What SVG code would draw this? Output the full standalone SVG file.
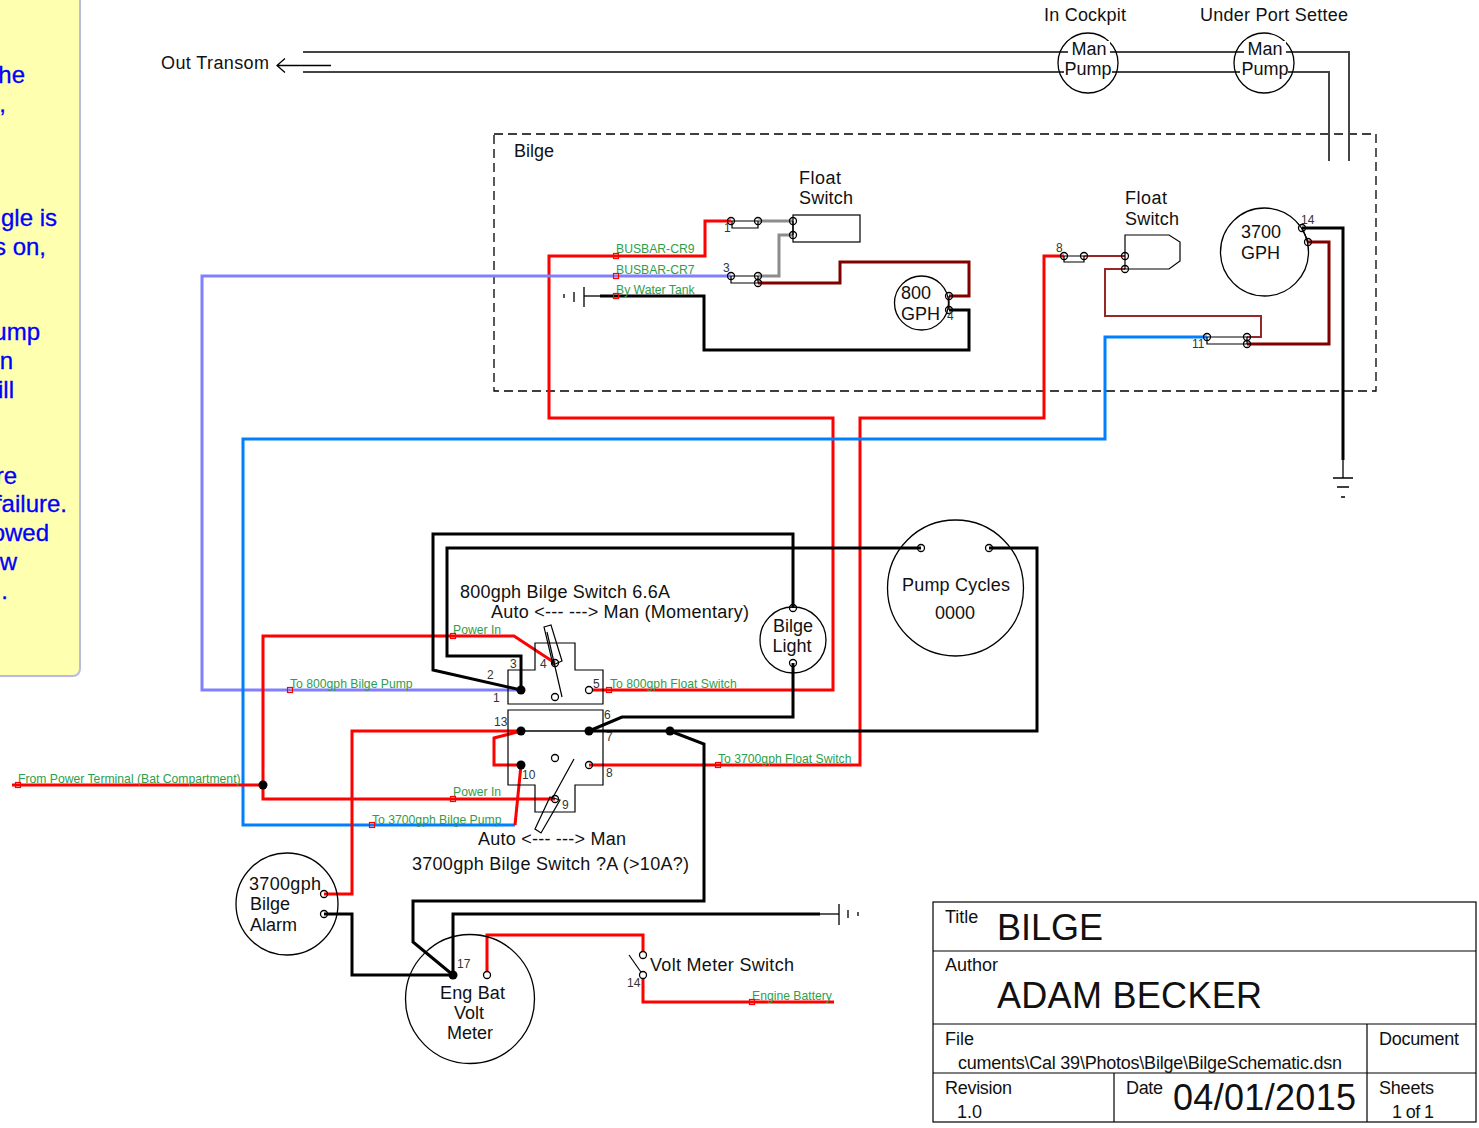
<svg xmlns="http://www.w3.org/2000/svg" width="1479" height="1128" viewBox="0 0 1479 1128">
<style>
text{font-family:"Liberation Sans",Arial,sans-serif;fill:#111;font-size:18px}
.g{fill:#2e9e4a;font-size:12.200px}
.n{fill:#333;font-size:12px}
.b{fill:#0000ff;font-size:24px;text-anchor:end;stroke:#0000ff;stroke-width:.3px}
.m{text-anchor:middle}
.s{fill:#fff;stroke:#000;stroke-width:1.3}
.o{fill:none;stroke:#000;stroke-width:1.3}
.t{fill:none;stroke:#000;stroke-width:1.2}
.d{fill:#000}
.w{fill:none;stroke-linejoin:miter}
.r{stroke:#f00;stroke-width:3}
.k{stroke:#000;stroke-width:3}
.br{stroke:#800000;stroke-width:3}
.tr{stroke:#982828;stroke-width:2}
.gy{stroke:#8c8c8c;stroke-width:3}
.bl{stroke:#0080ff;stroke-width:3}
.lv{stroke:#8080ff;stroke-width:3}
.th{stroke:#000;stroke-width:1.3}
.ds{stroke:#444;stroke-width:2}
.tag{fill:none;stroke:#f00;stroke-width:1.2}
</style>

<g id="note">
<rect x="-20" y="-20" width="100" height="696" rx="7" fill="#ffffb0" stroke="#b9b9e6" stroke-width="2"/>
<text class="b" x="25" y="83">he</text>
<text class="b" x="6" y="112">,</text>
<text class="b" x="57" y="226">gle is</text>
<text class="b" x="46" y="255">s on,</text>
<text class="b" x="40" y="340">ump</text>
<text class="b" x="13" y="369">n</text>
<text class="b" x="14" y="398">ill</text>
<text class="b" x="17" y="484">re</text>
<text class="b" x="67" y="512">failure.</text>
<text class="b" x="49" y="541">owed</text>
<text class="b" x="17" y="570">w</text>
<text class="b" x="8" y="599">.</text>
</g>

<g id="bilge-boundary">
<rect x="494" y="134" width="882" height="257" fill="none" stroke="#000" stroke-width="1.3" stroke-dasharray="9 5"/>
<text x="514" y="157">Bilge</text>
</g>

<g id="connectors">
<path class="w ds" d="M303 52H1349V161"/>
<path class="w ds" d="M303 72H1329V161"/>
<path class="w th" d="M331 65.500H277M285 58.500L277 65.500L285 72.500"/>
<path class="w r" d="M731 221H705V256H549V418H833V690H589"/>
<path class="w lv" d="M731 276H202V690H521"/>
<path class="w gy" d="M758 221H793"/>
<path class="w gy" d="M793 235H779V276H758"/>
<path class="w br" d="M758 283H840V262H969V296H949"/>
<path class="w k" d="M949 310H969V350H704V296H600"/>
<path class="w th" d="M600 296H584"/>
<path class="w r" d="M1064 256H1044V418H860V765H589"/>
<path class="w tr" d="M1084 256H1125"/>
<path class="w tr" d="M1125 269H1105V316H1261V337H1247"/>
<path class="w br" d="M1247 344H1329V242H1308"/>
<path class="w bl" d="M1207 337H1105V439H243V825H515"/>
<path class="w k" d="M1302 228H1343V460"/>
<path class="w th" d="M1343 460V478"/>
<path class="w r" d="M12 785H263V636H514L555 663"/>
<path class="w r" d="M263 785V799H555"/>
<path class="w r" d="M521 731H352V894H324"/>
<path class="w r" d="M521 731L494 738V765H521"/>
<path class="w r" d="M521 765L515 825"/>
<path class="w k" d="M521 690V656H447V548H921"/>
<path class="w k" d="M521 690L433 670V534H793V608"/>
<path class="w ds" d="M521 731H589"/>
<path class="w k" d="M589 731H1037V548H989"/>
<path class="w k" d="M589 731L622 717H793V663"/>
<path class="w k" d="M670 731L704 744V901H413V942L453 975"/>
<path class="w k" d="M453 975V914H820"/>
<path class="w th" d="M820 914H839"/>
<path class="w k" d="M324 914H352V975H453"/>
<path class="w r" d="M487 975V935H643V955"/>
<path class="w r" d="M643 975V1002H834"/>
</g>

<g id="out-transom"><text x="161" y="69" textLength="108">Out Transom</text></g>

<g id="man-pump-cockpit">
<circle class="o" cx="1088" cy="63" r="30"/>
<rect x="1068" y="41" width="42" height="18" fill="#fff"/>
<rect x="1064" y="61" width="48" height="18" fill="#fff"/>
<text class="m" x="1089" y="55">Man</text>
<text class="m" x="1088" y="75">Pump</text>
<text x="1044" y="21" textLength="82">In Cockpit</text>
</g>
<g id="man-pump-settee">
<circle class="o" cx="1264" cy="63" r="30"/>
<rect x="1244" y="41" width="42" height="18" fill="#fff"/>
<rect x="1240" y="61" width="48" height="18" fill="#fff"/>
<text class="m" x="1265" y="55">Man</text>
<text class="m" x="1265" y="75">Pump</text>
<text x="1200" y="21" textLength="148">Under Port Settee</text>
</g>

<g id="fuse-1">
<path class="t" d="M731 221H758M732 221V228H758V221"/>
<circle class="o" cx="731" cy="221" r="3.500"/><circle class="o" cx="758" cy="221" r="3.500"/>
<text class="n" x="724" y="232">1</text>
</g>
<g id="fuse-3">
<path class="t" d="M731 276H758M731 276V283H758V276"/>
<circle class="o" cx="731" cy="276" r="3.500"/><circle class="o" cx="758" cy="276" r="3.500"/><circle class="o" cx="758" cy="283" r="3.500"/>
<text class="n" x="723" y="272">3</text>
</g>
<g id="float-switch-800">
<rect class="t" x="793" y="215" width="67" height="27"/>
<path class="t" d="M793 221V235"/>
<circle class="o" cx="793" cy="221" r="3.500"/><circle class="o" cx="793" cy="235" r="3.500"/>
<text x="799" y="184" textLength="42">Float</text><text x="799" y="204" textLength="54">Switch</text>
</g>
<g id="pump-800">
<circle class="o" cx="921.500" cy="303" r="27"/>
<path class="t" d="M949 296V310"/>
<circle class="o" cx="949" cy="296" r="3.500"/><circle class="o" cx="949" cy="310" r="3.500"/>
<text x="901" y="299">800</text><text x="901" y="320">GPH</text>
<text class="n" x="947" y="320">4</text>
</g>
<g id="ground-tank">
<path class="th" d="M584 287V307M574 292V302M564 294V298" fill="none"/>
</g>
<g id="fuse-8">
<path class="t" d="M1064 256H1084M1064 256V262H1084V256"/>
<circle class="o" cx="1064" cy="256" r="3.500"/><circle class="o" cx="1084" cy="256" r="3.500"/>
<text class="n" x="1056" y="252">8</text>
</g>
<g id="float-switch-3700">
<path class="t" d="M1125 269V235H1169L1180 242V261L1169 269Z"/>
<circle class="o" cx="1125" cy="256" r="3.500"/><circle class="o" cx="1125" cy="269" r="3.500"/>
<text x="1125" y="204" textLength="42">Float</text><text x="1125" y="225" textLength="54">Switch</text>
</g>
<g id="fuse-11">
<path class="t" d="M1207 337H1247V344H1207V337"/>
<circle class="o" cx="1207" cy="337" r="3.500"/><circle class="o" cx="1247" cy="337" r="3.500"/><circle class="o" cx="1247" cy="344" r="3.500"/>
<text class="n" x="1192" y="348">11</text>
</g>
<g id="pump-3700">
<circle class="o" cx="1264.500" cy="252" r="44"/>
<path class="t" d="M1302 228L1308 242"/>
<circle class="o" cx="1302" cy="228" r="3.500"/><circle class="o" cx="1308" cy="242" r="3.500"/>
<text x="1241" y="238">3700</text><text x="1241" y="259">GPH</text>
<text class="n" x="1301" y="224">14</text>
</g>
<g id="ground-main">
<path class="th" d="M1333 478H1353M1337 487H1349M1341 497H1345" fill="none"/>
</g>

<g id="switch-800">
<path class="t" d="M535 643H575V670H603V704H508V670H535Z"/>
<path class="t" d="M544 627L551 625L562 661L553 665ZM547 632L562 697"/>
<circle class="o" cx="555" cy="663" r="3.500"/><circle class="s" cx="555" cy="697" r="3.500"/><circle class="s" cx="589" cy="690" r="3.500"/>
<circle class="d" cx="521" cy="690" r="4.500"/>
<text class="n" x="510" y="668">3</text><text class="n" x="487" y="679">2</text><text class="n" x="493" y="702">1</text><text class="n" x="540" y="668">4</text><text class="n" x="593" y="688">5</text>
<text x="460" y="598" textLength="210">800gph Bilge Switch 6.6A</text>
<text x="491" y="618" textLength="258">Auto &lt;--- ---&gt; Man (Momentary)</text>
</g>
<g id="switch-3700">
<path class="t" d="M508 710H603V785H575V812H535V785H508Z"/>
<path class="t" d="M574 759L552 799M550 797L560 800L541 833L535 829Z"/>
<circle class="d" cx="521" cy="731" r="4.500"/><circle class="d" cx="589" cy="731" r="4.500"/><circle class="d" cx="521" cy="765" r="4.500"/>
<circle class="s" cx="555" cy="758" r="3.500"/><circle class="o" cx="589" cy="765" r="3.500"/><circle class="o" cx="555" cy="799" r="3.500"/>
<text class="n" x="494" y="726">13</text><text class="n" x="604" y="719">6</text><text class="n" x="606" y="741">7</text><text class="n" x="606" y="777">8</text><text class="n" x="522" y="779">10</text><text class="n" x="562" y="809">9</text>
<text x="478" y="845" textLength="148">Auto &lt;--- ---&gt; Man</text>
<text x="412" y="870" textLength="277">3700gph Bilge Switch ?A (&gt;10A?)</text>
</g>
<g id="junction-a"><circle class="d" cx="670" cy="731" r="4.500"/></g>
<g id="junction-b"><circle class="d" cx="263" cy="785" r="4.500"/></g>

<g id="bilge-light">
<circle class="o" cx="793" cy="640" r="33"/>
<circle class="o" cx="793" cy="608" r="3.500"/><circle class="o" cx="793" cy="663" r="3.500"/>
<text class="m" x="793" y="632">Bilge</text><text class="m" x="792" y="652">Light</text>
</g>
<g id="pump-cycles">
<circle class="o" cx="955.500" cy="588" r="68"/>
<circle class="o" cx="921" cy="548" r="3.500"/><circle class="o" cx="989" cy="548" r="3.500"/>
<text x="902" y="591" textLength="108">Pump Cycles</text><text class="m" x="955" y="619">0000</text>
</g>
<g id="bilge-alarm">
<circle class="o" cx="287" cy="904" r="51"/>
<circle class="o" cx="324" cy="894" r="3.500"/><circle class="o" cx="324" cy="914" r="3.500"/>
<text x="249" y="890" textLength="72">3700gph</text><text x="250" y="910">Bilge</text><text x="250" y="931">Alarm</text>
</g>
<g id="volt-meter">
<circle class="o" cx="470" cy="999" r="64.500"/>
<circle class="d" cx="453" cy="975" r="4.500"/><circle class="s" cx="487" cy="975" r="3.500"/>
<text class="n" x="457" y="968">17</text>
<text x="440" y="999" textLength="65">Eng Bat</text><text class="m" x="469" y="1019">Volt</text><text class="m" x="470" y="1039">Meter</text>
</g>
<g id="volt-switch">
<path class="t" d="M629 955L643 975"/>
<circle class="s" cx="643" cy="955" r="3.500"/><circle class="s" cx="643" cy="975" r="3.500"/>
<text x="650" y="971" textLength="144">Volt Meter Switch</text>
<text class="n" x="627" y="987">14</text>
</g>
<g id="ground-engine">
<path class="th" d="M839 904V925M848 910V918M858 912V916" fill="none"/>
</g>

<g id="wire-labels">
<text class="g" x="616" y="253">BUSBAR-CR9</text>
<text class="g" x="616" y="274">BUSBAR-CR7</text>
<text class="g" x="616" y="294">By Water Tank</text>
<text class="g" x="453" y="634">Power In</text>
<text class="g" x="290" y="688">To 800gph Bilge Pump</text>
<text class="g" x="610" y="688">To 800gph Float Switch</text>
<text class="g" x="718" y="763">To 3700gph Float Switch</text>
<text class="g" x="453" y="796">Power In</text>
<text class="g" x="372" y="824">To 3700gph Bilge Pump</text>
<text class="g" x="18" y="783">From Power Terminal (Bat Compartment)</text>
<text class="g" x="752" y="1000">Engine Battery</text>
<rect class="tag" x="613.500" y="253.500" width="5" height="5"/>
<rect class="tag" x="613.500" y="273.500" width="5" height="5"/>
<rect class="tag" x="613.500" y="293.500" width="5" height="5"/>
<rect class="tag" x="450.500" y="633.500" width="5" height="5"/>
<rect class="tag" x="287.500" y="687.500" width="5" height="5"/>
<rect class="tag" x="606.500" y="687.500" width="5" height="5"/>
<rect class="tag" x="715.500" y="762.500" width="5" height="5"/>
<rect class="tag" x="450.500" y="796.500" width="5" height="5"/>
<rect class="tag" x="369.500" y="822.500" width="5" height="5"/>
<rect class="tag" x="15.500" y="782.500" width="5" height="5"/>
<rect class="tag" x="749.500" y="999.500" width="5" height="5"/>
</g>

<g id="title-block">
<rect class="t" x="933" y="902" width="543" height="220"/>
<path class="t" d="M933 951H1476M933 1024H1476M933 1073H1476M1367 1024V1122M1114 1073V1122"/>
<text x="945" y="923">Title</text>
<text x="997" y="940" style="font-size:36px">BILGE</text>
<text x="945" y="971">Author</text>
<text x="997" y="1008" textLength="265" style="font-size:36px">ADAM BECKER</text>
<text x="945" y="1045">File</text>
<text x="958" y="1069" textLength="384">cuments\Cal 39\Photos\Bilge\BilgeSchematic.dsn</text>
<text x="1379" y="1045" textLength="80">Document</text>
<text x="945" y="1094" textLength="67">Revision</text>
<text x="957" y="1118">1.0</text>
<text x="1126" y="1094" textLength="37">Date</text>
<text x="1173" y="1110" textLength="183" style="font-size:36px">04/01/2015</text>
<text x="1379" y="1094" textLength="55">Sheets</text>
<text x="1392" y="1118" textLength="42">1 of 1</text>
</g>
</svg>
